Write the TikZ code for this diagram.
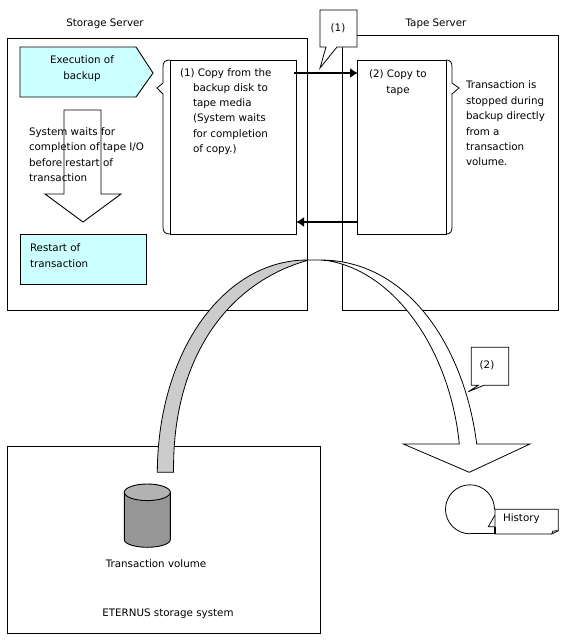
\documentclass[tikz,border=0pt]{standalone}
\usepackage{fontspec}
\setmainfont{DejaVu Sans}
\usetikzlibrary{arrows.meta}
\tikzset{
  every node/.style={inner sep=0pt,outer sep=0pt},
  txt/.style={font=\fontsize{10.3}{15.4}\selectfont,align=left,anchor=west},
  ctxt/.style={font=\fontsize{10.3}{15.4}\selectfont,align=center},
  box/.style={draw=black,rectangle,anchor=north west},
  flow/.style={line width=1.8pt,-{Latex[length=8pt,width=10pt]}},
  thin line/.style={line width=0.8pt}
}
\definecolor{paleblue}{HTML}{CCFFFF}
\definecolor{bandgray}{HTML}{CCCCCC}
\definecolor{cylbody}{HTML}{969696}
\definecolor{cyltop}{HTML}{B2B2B2}
\begin{document}
\begin{tikzpicture}[x=1pt,y=-1pt,line width=0.9pt]
\useasboundingbox (0,0) rectangle (567,640);
% outer frames
\node[box,minimum width=300pt,minimum height=272pt] (storage) at (7,38) {};
\node[box,minimum width=216pt,minimum height=275pt] (tapesrv) at (342,35) {};
\node[box,minimum width=313pt,minimum height=187pt] (eternus) at (7,446) {};
% copy boxes
\node[box,minimum width=126pt,minimum height=174pt] (copy) at (170,60) {};
\node[box,minimum width=89pt,minimum height=174pt] (tapecopy) at (357,60) {};
% restart and execution
\node[box,fill=paleblue,minimum width=126pt,minimum height=50pt] (restart) at (20,234) {};
\path[draw,fill=paleblue] (20,47) -- (136,47) -- (153,73) -- (136,97) -- (20,97) -- cycle;
% hollow down arrow
\path[draw,fill=white] (64,110) -- (101,110) -- (101,194) -- (121,194) -- (83,222) -- (45,194) -- (64,194) -- cycle;
% braces
\draw[thin line] (170,60) .. controls (165,60) and (163,62) .. (163,67) -- (163,83) -- (157,88) -- (163,94) -- (163,227) .. controls (163,232) and (165,234) .. (170,234);
\draw[thin line] (446,60) .. controls (450,60) and (452,62) .. (452,67) -- (452,83) -- (459,88) -- (452,94) -- (452,227) .. controls (452,232) and (450,234) .. (446,234);
% connectors
\draw[flow] ([xshift=-2pt,yshift=-13pt]copy.north east) -- ([xshift=1pt,yshift=-13pt]tapecopy.north west);
\draw[flow] ([xshift=1pt,yshift=12pt]tapecopy.south west) -- ([yshift=12pt]copy.south east);
% callout 1
\path[draw,fill=white,thin line] (320,10) -- (357,10) -- (357,47) -- (337,47) -- (320,68) -- (326,47) -- (320,47) -- cycle;
% gray band
\path[draw,fill=bandgray,thin line] (157.3,472.3) .. controls (158,350) and (225,260) .. (307,260) -- (307,260.5) .. controls (222,285) and (172,365) .. (173.6,472.3) -- cycle;
% white arrow
\path[draw,fill=white,thin line] (307,260) -- (320,260) .. controls (410,260) and (465,350) .. (476.7,444)
  -- (530,444) -- (469.3,472.3) -- (403.3,444) -- (459.3,444)
  .. controls (450,350) and (395,272) .. (328,260.7) -- (320,260) -- cycle;
% callout 2
\path[draw,fill=white,thin line] (471.3,347.3) -- (508.7,347.3) -- (508.7,385.3) -- (484,385.3) -- (468.3,391.7) -- (478.3,385.3) -- (471.3,385.3) -- cycle;
% cylinder
\path[draw,fill=cylbody] (124.3,492.3) -- (124.3,539.7) arc[start angle=180,end angle=360,x radius=23,y radius=-7.6] -- (170.3,492.3) -- cycle;
\path[draw,fill=cyltop] (147.3,492.3) ellipse[x radius=23,y radius=8.3];
% tape and history
\draw[thin line] (470,533.8) arc[start angle=90,end angle=360,radius=24.5];
\draw[thin line] (495,515) -- (488.3,526.7) -- (495,526.7);
\draw[thin line] (470,533.8) -- (495,533.8);
\path[draw,fill=white,thin line] (495,509.3) -- (558.3,509.3) -- (558.3,530.7) -- (551.7,534) -- (495,534) -- cycle;
\draw[thin line] (551.7,534) -- (553,531) -- (558.3,530.7);
\draw[line width=1.8pt] (495,526.7) -- (495,534);
% labels
\node[ctxt] (lstorage) at (105,24) {Storage Server};
\node[ctxt] (ltape) at (436,24) {Tape Server};
\node[ctxt] (lexec) at (82,68.5) {Execution of\\backup};
\node[txt] (lwait) at (29,154.5) {System waits for\\completion of tape I/O\\before restart of\\transaction};
\node[txt] (lrestart) at (30,255.5) {Restart of\\transaction};
\node[txt] (lcopyone) at (180,74) {(1) Copy from the};
\node[txt] (lcopytwo) at (193,119) {backup disk to\\tape media\\(System waits\\for completion\\of copy.)};
\node[txt] (lcopytape) at (369,75) {(2) Copy to};
\node[ctxt] (lcopytapeb) at (398,91) {tape};
\node[txt] (lstop) at (466,123.5) {Transaction is\\stopped during\\backup directly\\from a\\transaction\\volume.};
\node[ctxt] (lone) at (338,28) {(1)};
\node[ctxt] (ltwo) at (487,365) {(2)};
\node[txt] (lhist) at (503,519) {History};
\node[ctxt] (lvol) at (156,564) {Transaction volume};
\node[ctxt] (leter) at (168,614) {ETERNUS storage system};
\end{tikzpicture}
\end{document}
